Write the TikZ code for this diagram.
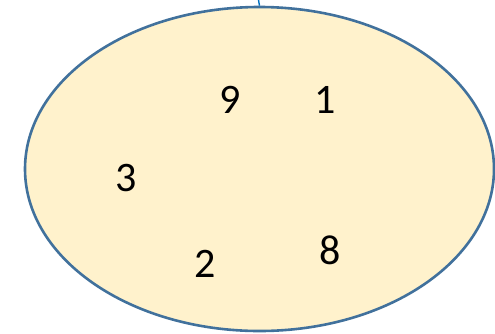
\documentclass[tikz,border=0pt]{standalone}
\usepackage{fontspec}
\setmainfont{Carlito}
\usepackage{tikz}
\usetikzlibrary{shapes.geometric, positioning}
\definecolor{setFill}{RGB}{255,242,204}
\definecolor{setLine}{RGB}{65,113,156}
\definecolor{tickBlue}{RGB}{0,112,192}
\tikzstyle{setShape} = [ellipse, minimum width=469pt, minimum height=324pt, inner sep=0pt, draw=setLine, fill=setFill, line width=2.6pt]
\tikzstyle{elem} = [inner sep=0pt, font=\fontsize{42}{42}\selectfont]

\begin{document}
\begin{tikzpicture}[x=1pt, y=-1pt]
                            \useasboundingbox (0,0) rectangle (495,333);
                            \node (set) [setShape] at (259.5,169) {};
                            \coordinate (top) at (258.5,0);
                            \draw [tickBlue, line width=1.4pt] (top) -- (set.north);
                            \node (9) [elem] at (230,100) {9};
                            \node (1) [elem] at (325,100) {1};
                            \node (3) [elem] at (126,178) {3};
                            \node (2) [elem] at (205,264) {2};
                            \node (8) [elem] at (330,250) {8};
                        \end{tikzpicture}
\end{document}
